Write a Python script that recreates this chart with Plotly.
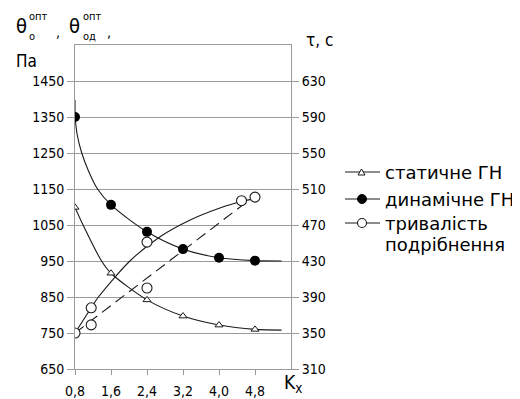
import plotly.graph_objects as go

# ---------------- data ----------------
kx_ticks = [0.8, 1.6, 2.4, 3.2, 4.0, 4.8]
kx_ticktext = ["0,8", "1,6", "2,4", "3,2", "4,0", "4,8"]
left_ticks = [650, 750, 850, 950, 1050, 1150, 1250, 1350, 1450]
right_ticks = [310, 350, 390, 430, 470, 510, 550, 590, 630]

# static shear stress (triangles), Pa
static_k = [0.8, 1.6, 2.4, 3.2, 4.0, 4.8]
static_v = [1099, 916, 842, 797, 772, 760]
# traced static curve
static_curve_k = [0.8, 0.98, 1.39, 1.6, 2.4, 3.2, 4.0, 4.8, 5.39]
static_curve_v = [1099, 1050, 950, 916, 842, 797, 772, 760, 758]

# dynamic shear stress (filled circles), Pa
dyn_k = [0.8, 1.6, 2.4, 3.2, 4.0, 4.8]
dyn_v = [1350, 1106, 1031, 983, 959, 951]
dyn_top_k = [0.8, 0.8]
dyn_top_v = [1397, 1350]
dyn_curve_k = [0.8, 0.85, 0.95, 1.1, 1.3, 1.6, 2.4, 3.2, 4.0, 4.8, 5.39]
dyn_curve_v = [1350, 1300, 1250, 1200, 1150, 1106, 1031, 983, 959, 951, 950]

# grinding duration (open circles), s
dur_k = [0.8, 1.16, 1.16, 2.4, 2.4, 4.5, 4.8]
dur_v = [350, 378, 359, 451, 400, 497, 501]
dur_curve_k = [0.8, 1.16, 1.32, 2.02, 2.69, 3.36, 4.02, 4.47, 4.8]
dur_curve_v = [350, 378, 390, 430, 457, 475.6, 488.9, 495.9, 499]
dur_fit_k = [0.8, 4.6]
dur_fit_v = [350, 495]

legend_labels = ["статичне ГН", "динамічне ГН", "тривалість", "подрібнення"]

# ---------------- layout geometry (window pixels) ----------------
WIN_W, WIN_H = 520, 399
OFF = 8                      # page body margin
FW, FH = WIN_W - OFF, WIN_H - OFF
L, R, T, B = 75, 291, 45, 369
FONT = "DejaVu Sans Condensed, Liberation Sans Narrow, DejaVu Sans, sans-serif"
LFONT = "DejaVu Sans, sans-serif"
GRID = "#9a9a9a"
INK = "#1a1a1a"


def px(x):
    return (x - L) / (R - L)


def py(y):
    return (B - y) / (B - T)


fig = go.Figure()

line_style = dict(color=INK, width=1.1, shape="spline", smoothing=0.8)

fig.add_trace(go.Scatter(x=static_curve_k, y=static_curve_v, mode="lines",
                         line=line_style, showlegend=False, hoverinfo="skip"))
fig.add_trace(go.Scatter(x=static_k, y=static_v, mode="markers",
                         marker=dict(symbol="triangle-up", size=7, color="white",
                                     line=dict(color=INK, width=1)),
                         showlegend=False))

fig.add_trace(go.Scatter(x=dyn_top_k, y=dyn_top_v, mode="lines",
                         line=dict(color=INK, width=1.1),
                         showlegend=False, hoverinfo="skip"))
fig.add_trace(go.Scatter(x=dyn_curve_k, y=dyn_curve_v, mode="lines",
                         line=line_style, showlegend=False, hoverinfo="skip"))
fig.add_trace(go.Scatter(x=dyn_k, y=dyn_v, mode="markers",
                         marker=dict(symbol="circle", size=10, color="black"),
                         showlegend=False))

fig.add_trace(go.Scatter(x=dur_curve_k, y=dur_curve_v, mode="lines", yaxis="y2",
                         line=line_style, showlegend=False, hoverinfo="skip"))
fig.add_trace(go.Scatter(x=dur_fit_k, y=dur_fit_v, mode="lines", yaxis="y2",
                         line=dict(color=INK, width=1.1, dash="11px,6px"),
                         showlegend=False, hoverinfo="skip"))
fig.add_trace(go.Scatter(x=dur_k, y=dur_v, mode="markers", yaxis="y2",
                         marker=dict(symbol="circle", size=10, color="white",
                                     line=dict(color=INK, width=1.1)),
                         showlegend=False))

tickfont = dict(family=FONT, size=14, color="black")

fig.update_layout(
    width=FW, height=FH,
    margin=dict(l=L - OFF, r=WIN_W - R, t=T - OFF, b=WIN_H - B, autoexpand=False),
    paper_bgcolor="white", plot_bgcolor="white",
    showlegend=False,
    xaxis=dict(range=[0.8, 5.6], tickvals=kx_ticks, ticktext=kx_ticktext,
               showgrid=False, zeroline=False, showline=True, linecolor=GRID,
               linewidth=1, mirror=True, ticks="outside", ticklen=5,
               tickcolor=GRID, tickfont=tickfont, automargin=False,
               ticklabelstandoff=4),
    yaxis=dict(range=[650, 1550], tickvals=left_ticks, showgrid=True,
               gridcolor=GRID, gridwidth=1, zeroline=False, showline=True,
               linecolor=GRID, linewidth=1, ticks="outside", ticklen=7,
               tickcolor=GRID, tickfont=tickfont, automargin=False),
    yaxis2=dict(range=[310, 670], tickvals=right_ticks, overlaying="y",
                side="right", showgrid=False, zeroline=False, showline=True,
                linecolor=GRID, linewidth=1, ticks="outside", ticklen=7,
                tickcolor=GRID, tickfont=tickfont, automargin=False),
)

ann = []


def text(x, y, s, size, xanchor="left", yanchor="middle", family=FONT):
    ann.append(dict(x=px(x), y=py(y), xref="paper", yref="paper", text=s,
                    showarrow=False, xanchor=xanchor, yanchor=yanchor,
                    font=dict(family=family, size=size, color="black")))


# left axis title
text(14, 26, "θ", 20)
text(27, 16, "опт", 11)
text(27, 37, "о", 11)
text(54, 32, ",", 14)
text(67, 26, "θ", 20)
text(81, 16, "опт", 11)
text(81, 37, "од", 11)
text(105, 32, ",", 14)
text(14, 61, "Па", 17)
# right axis title
text(304, 40, "τ, с", 17)
# x axis title
text(282, 383, "K<sub>x</sub>", 19)

# legend
leg_y = [172, 199, 223]
for yy in leg_y:
    fig.add_shape(type="line", xref="paper", yref="paper",
                  x0=px(345), x1=px(380), y0=py(yy), y1=py(yy),
                  line=dict(color=INK, width=1.1))
fig.add_shape(type="path", xref="paper", yref="paper",
              path="M {} {} L {} {} L {} {} Z".format(px(358), py(175), px(365), py(175), px(361.5), py(169)),
              line=dict(color=INK, width=1), fillcolor="white")
fig.add_shape(type="circle", xref="paper", yref="paper",
              x0=px(357.5), x1=px(366.5), y0=py(203.5), y1=py(194.5),
              line=dict(color="black", width=1), fillcolor="black")
fig.add_shape(type="circle", xref="paper", yref="paper",
              x0=px(357.5), x1=px(366.5), y0=py(227.5), y1=py(218.5),
              line=dict(color=INK, width=1.1), fillcolor="white")
text(383, 172, legend_labels[0], 18, family=LFONT)
text(383, 199, legend_labels[1], 18, family=LFONT)
text(383, 223, legend_labels[2], 18, family=LFONT)
text(383, 244, legend_labels[3], 18, family=LFONT)

fig.update_layout(annotations=ann)
fig.write_html("out.html")
